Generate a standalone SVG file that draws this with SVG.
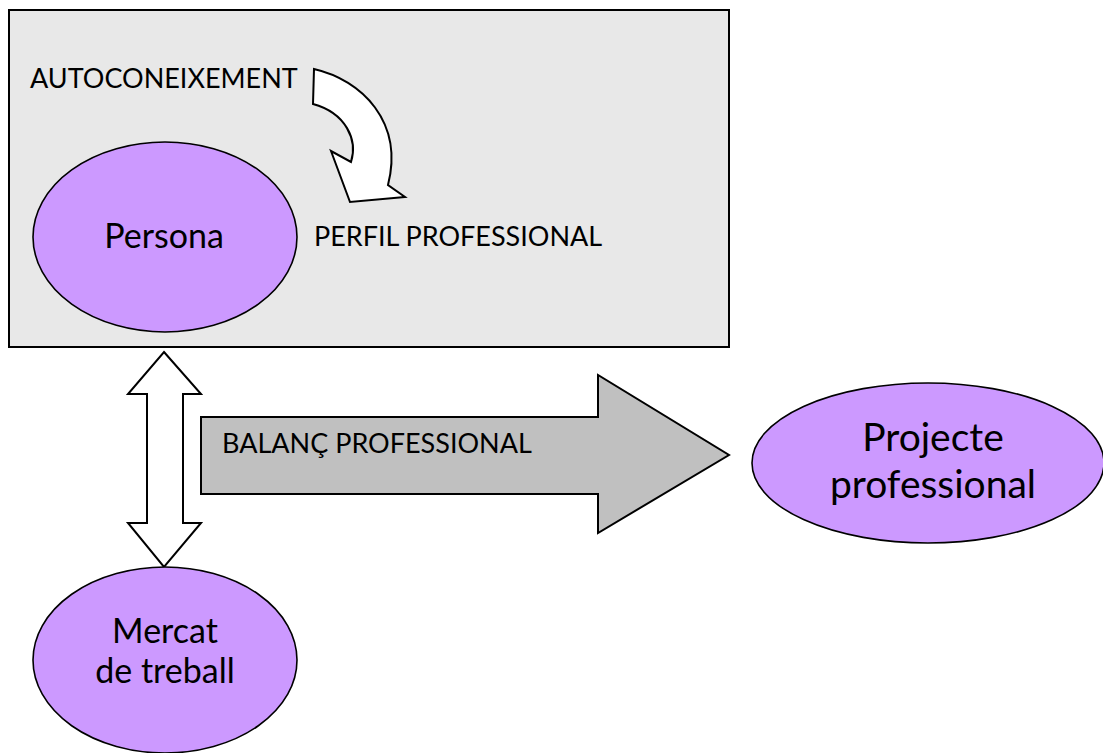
<svg xmlns="http://www.w3.org/2000/svg" width="1103" height="753" viewBox="0 0 1103 753">
<style>
.bg{fill:#fff}
.box{fill:#e8e8e8;stroke:#000;stroke-width:2}
.node{fill:#cc99ff;stroke:#000;stroke-width:1.6}
.arr{fill:#fff;stroke:#000;stroke-width:2;stroke-linejoin:miter}
.big{fill:#c0c0c0;stroke:#000;stroke-width:2}
text{font-family:Lato,"Open Sans","Liberation Sans",sans-serif;fill:#000}
.lbl{font-size:27px}
.nm{font-size:34px;text-anchor:middle}
.nl{font-size:39px;text-anchor:middle}
</style>
<rect class="bg" x="0" y="0" width="1103" height="753"/>
<g id="frame">
<rect class="box" x="9" y="10" width="720" height="337"/>
<text class="lbl" x="30" y="88">AUTOCONEIXEMENT</text>
<text class="lbl" x="314" y="246">PERFIL PROFESSIONAL</text>
</g>
<g id="connectors">
<path id="curved-arrow" class="arr" d="M314,69 C362,80 404,122 388,185 L405,197 L350,202 L331,151 L351,162 C358,140 346,113 313,104 Z"/>
<path id="double-arrow" class="arr" d="M164,352 L201,394 L183,394 L183,523 L201,523 L164,567 L128,523 L147,523 L147,394 L128,394 Z"/>
<g id="balanc">
<path class="big" d="M201,417 L598,417 L598,375 L729,455 L598,533 L598,494 L201,494 Z"/>
<text class="lbl" x="222" y="453">BALANÇ PROFESSIONAL</text>
</g>
</g>
<g id="persona">
<ellipse class="node" cx="165" cy="237" rx="132" ry="95"/>
<text class="nm" x="164" y="248">Persona</text>
</g>
<g id="mercat">
<ellipse class="node" cx="165" cy="660" rx="132" ry="93"/>
<text class="nm" x="165" y="643">Mercat</text>
<text class="nm" x="165" y="683">de treball</text>
</g>
<g id="projecte">
<ellipse class="node" cx="928" cy="463" rx="176" ry="80"/>
<text class="nl" x="933" y="451">Projecte</text>
<text class="nl" x="933" y="498">professional</text>
</g>
</svg>
